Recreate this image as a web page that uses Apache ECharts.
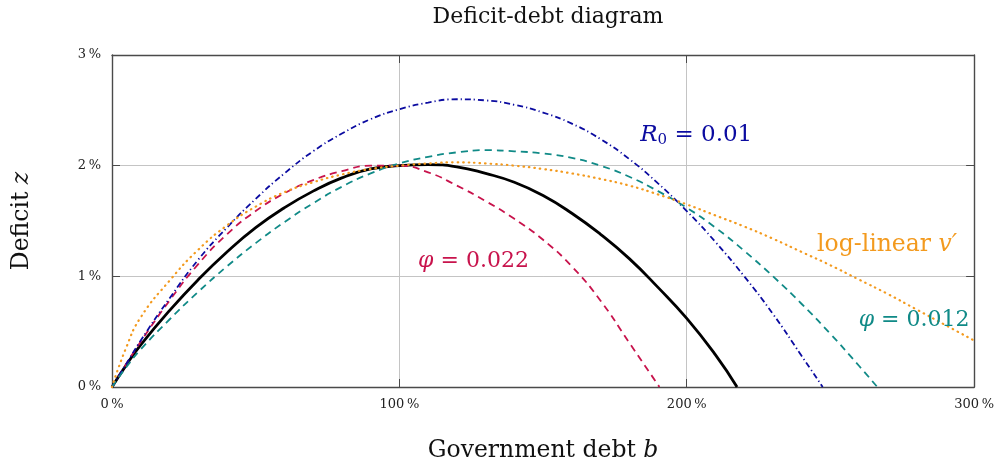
<!DOCTYPE html>
<html>
<head>
<meta charset="utf-8">
<title>Deficit-debt diagram</title>
<script src="https://cdn.jsdelivr.net/npm/echarts@6.0.0/dist/echarts.min.js"></script>
<style>
  html, body { margin: 0; padding: 0; background: #fff; }
  #chart { width: 997px; height: 468px; }
</style>
</head>
<body>
<div id="chart"></div>
<script>
// debt b in % of GDP, shared x grid
const debt = [0, 5, 10, 20, 30, 40, 50, 60, 70, 80, 90, 100, 110, 120, 130, 140, 150,
  160, 170, 180, 190, 200, 210, 220, 230, 240, 250, 260, 270, 280, 290, 300];

// deficit z in % (null = curve already ended)
const baseline = [0, 0.20, 0.38, 0.69, 0.97, 1.22, 1.44, 1.62, 1.77, 1.89, 1.97, 2.00, 2.01, 1.99, 1.93,
  1.85, 1.73, 1.57, 1.38, 1.16, 0.90, 0.62, 0.29, null, null, null, null, null, null, null, null, null];
const baselineRoot = 217.5;

const phiHigh = [0, 0.21, 0.41, 0.78, 1.11, 1.38, 1.59, 1.75, 1.87, 1.95, 2.00, 2.00, 1.94, 1.82, 1.68,
  1.52, 1.33, 1.09, 0.78, 0.40, null, null, null, null, null, null, null, null, null, null, null, null];
const phiHighRoot = 190.5;

const r0Low = [0, 0.21, 0.42, 0.80, 1.15, 1.44, 1.70, 1.93, 2.13, 2.29, 2.42, 2.51, 2.57, 2.60, 2.59,
  2.55, 2.48, 2.38, 2.24, 2.06, 1.84, 1.59, 1.31, 1.00, 0.66, 0.28, null, null, null, null, null, null];
const r0LowRoot = 247.3;

const phiLow = [0, 0.18, 0.34, 0.61, 0.86, 1.09, 1.30, 1.49, 1.66, 1.81, 1.93, 2.02, 2.08, 2.12, 2.14,
  2.13, 2.11, 2.07, 2.00, 1.90, 1.77, 1.62, 1.44, 1.23, 1.00, 0.75, 0.48, 0.19, null, null, null, null];
const phiLowRoot = 266.3;

const logLinear = [0, 0.36, 0.63, 0.96, 1.24, 1.46, 1.63, 1.76, 1.85, 1.92, 1.97, 2.00, 2.02, 2.03, 2.02,
  2.00, 1.97, 1.93, 1.88, 1.82, 1.74, 1.65, 1.55, 1.45, 1.34, 1.22, 1.10, 0.97, 0.84, 0.70, 0.56, 0.42];

const xTicks = [0, 100, 200, 300];
const yTicks = [0, 1, 2, 3];

const serif = "'DejaVu Serif', 'Liberation Serif', serif";

const pairs = (ys, root) => {
  const out = [];
  ys.forEach((y, i) => { if (y !== null) out.push([debt[i], y]); });
  if (root !== undefined) out.push([root, 0]);
  return out;
};

const label = (coord, text, color, size) => ({
  symbol: 'circle',
  symbolSize: 1,
  itemStyle: { color: 'rgba(0,0,0,0)' },
  silent: true,
  label: {
    show: true,
    position: 'inside',
    formatter: text,
    color: color,
    fontFamily: serif,
    fontSize: size,
    rich: {
      i: { fontStyle: 'italic', fontFamily: serif, fontSize: size, color: color },
      s: { fontFamily: serif, fontSize: 15, color: color, padding: [11, 0, 0, 0] }
    }
  },
  data: [{ coord: coord }]
});

const chart = echarts.init(document.getElementById('chart'));

const axisLine = { show: true, onZero: false, lineStyle: { color: '#4a4a4a', width: 1.4 } };
const tickIn = { show: true, inside: true, length: 8, lineStyle: { color: '#4a4a4a', width: 1 } };
const grid = { show: true, lineStyle: { color: '#c4c4c4', width: 1 } };
const tickLabel = {
  fontFamily: serif, fontSize: 13, color: '#222', margin: 11,
  formatter: v => v + '\u2009%'
};
const nameStyle = {
  rich: {
    r: { fontFamily: serif, fontSize: 23.5, color: '#111' },
    i: { fontFamily: serif, fontSize: 23.5, fontStyle: 'italic', color: '#111' }
  }
};

const option = {
  animation: false,
  backgroundColor: '#fff',
  title: {
    text: 'Deficit-debt diagram',
    left: 543,
    textAlign: 'center',
    top: 1,
    textStyle: { fontFamily: serif, fontSize: 22, fontWeight: 'normal', color: '#111' }
  },
  grid: { left: 112, right: 22, top: 55, bottom: 79 },
  xAxis: [
    {
      type: 'value', min: xTicks[0], max: xTicks[xTicks.length - 1], interval: 100,
      position: 'bottom',
      axisLine: axisLine, axisTick: tickIn, splitLine: grid, axisLabel: tickLabel,
      name: '{r|Government debt }{i|b}',
      nameLocation: 'middle', nameGap: 52, nameTextStyle: nameStyle
    },
    {
      type: 'value', min: 0, max: 300, interval: 100, position: 'top',
      axisLine: axisLine, axisTick: tickIn, splitLine: { show: false }, axisLabel: { show: false }
    }
  ],
  yAxis: [
    {
      type: 'value', min: yTicks[0], max: yTicks[yTicks.length - 1], interval: 1,
      position: 'left',
      axisLine: axisLine, axisTick: tickIn, splitLine: grid, axisLabel: tickLabel,
      name: '{r|Deficit }{i|z}',
      nameLocation: 'middle', nameGap: 78, nameRotate: 90, nameTextStyle: nameStyle
    },
    {
      type: 'value', min: 0, max: 3, interval: 1, position: 'right',
      axisLine: axisLine, axisTick: tickIn, splitLine: { show: false }, axisLabel: { show: false }
    }
  ],
  series: [
    {
      name: 'baseline', type: 'line', data: pairs(baseline, baselineRoot),
      smooth: true, showSymbol: false,
      lineStyle: { color: '#000', width: 2.8 }
    },
    {
      name: 'phi 0.022', type: 'line', data: pairs(phiHigh, phiHighRoot),
      smooth: true, showSymbol: false,
      lineStyle: { color: '#c8134c', width: 1.8, type: [7, 5] },
      markPoint: label([125.8, 1.14], '{i|φ} = 0.022', '#c8134c', 22)
    },
    {
      name: 'R0 0.01', type: 'line', data: pairs(r0Low, r0LowRoot),
      smooth: true, showSymbol: false,
      lineStyle: { color: '#0b0ba0', width: 1.8, type: [6, 3, 1.2, 3] },
      markPoint: label([203.3, 2.28], '{i|R}{s|0} = 0.01', '#0b0ba0', 23)
    },
    {
      name: 'phi 0.012', type: 'line', data: pairs(phiLow, phiLowRoot),
      smooth: true, showSymbol: false,
      lineStyle: { color: '#108a87', width: 1.8, type: [7, 5] },
      markPoint: label([279.1, 0.60], '{i|φ} = 0.012', '#108a87', 22)
    },
    {
      name: 'log-linear', type: 'line', data: pairs(logLinear),
      smooth: true, showSymbol: false,
      lineStyle: { color: '#f39a1e', width: 2.2, type: [0.5, 5], cap: 'round' },
      markPoint: label([269.7, 1.285], 'log-linear {i|v′}', '#f39a1e', 23.5)
    }
  ]
};

chart.setOption(option);
</script>
</body>
</html>
